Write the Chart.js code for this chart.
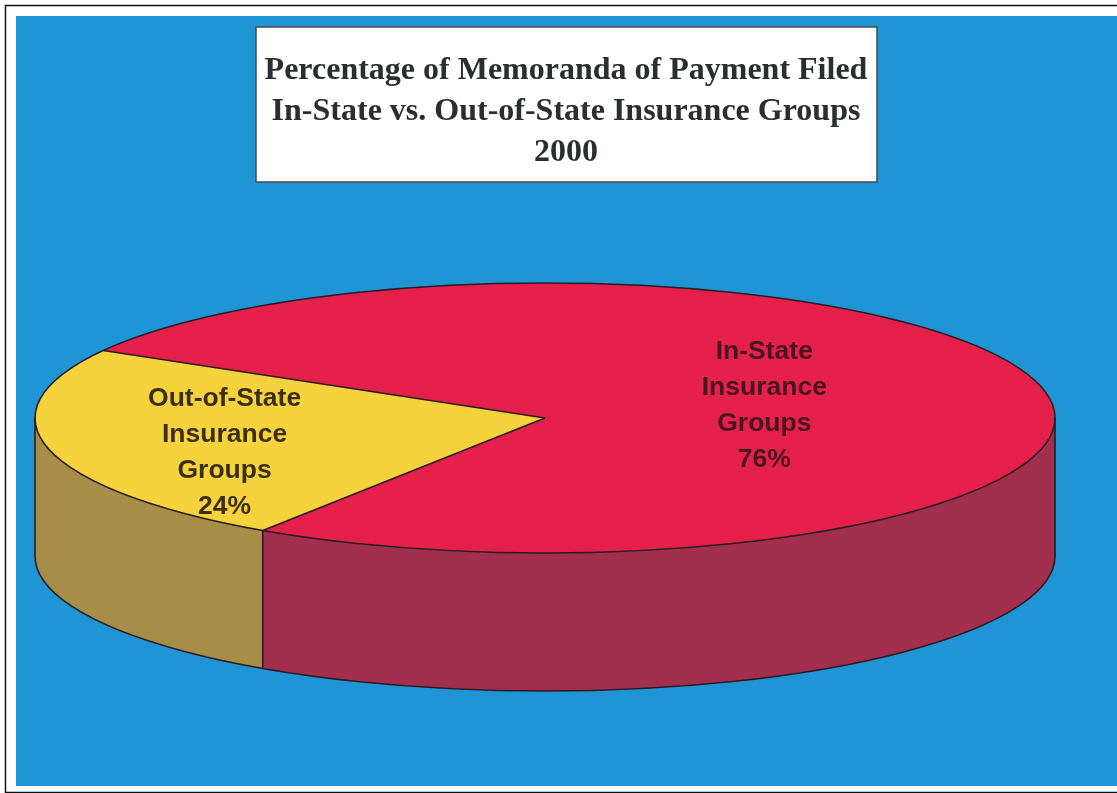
<!DOCTYPE html>
<html>
<head>
<meta charset="utf-8">
<title>Memoranda of Payment Filed 2000</title>
<style>
  html, body { margin: 0; padding: 0; background: #fff; }
  canvas { display: block; }
</style>
</head>
<body>
<canvas id="chart-pie" width="1117" height="793"></canvas>

<script src="https://cdn.jsdelivr.net/npm/chart.js@4"></script>
<script>
const categories = ['In-State Insurance Groups', 'Out-of-State Insurance Groups'];
const labelLines = [
  ['In-State', 'Insurance', 'Groups'],
  ['Out-of-State', 'Insurance', 'Groups'],
];
const shares = [76, 24];
const titleLines = [
  'Percentage of Memoranda of Payment Filed',
  'In-State vs. Out-of-State Insurance Groups',
  '2000',
];

const topColors = ['#e4204b', '#f6d33d'];
const sideColors = ['#a32f4e', '#a68d48'];
const labelColors = ['#4a1420', '#3c2e10'];

// page frame, blue backdrop and the boxed title
const page = {
  id: 'page',
  beforeDraw(chart) {
    const ctx = chart.ctx;
    ctx.save();
    ctx.fillStyle = '#fff';
    ctx.fillRect(0, 0, chart.width, chart.height);
    ctx.strokeStyle = '#111';
    ctx.lineWidth = 1.5;
    ctx.strokeRect(5.5, 5.5, 1200, 787);
    ctx.fillStyle = '#1f95d6';
    ctx.fillRect(16, 16, chart.width - 16, 770);

    ctx.fillStyle = '#fff';
    ctx.fillRect(256, 27, 621, 155);
    ctx.strokeStyle = '#4a4a4a';
    ctx.lineWidth = 1.5;
    ctx.strokeRect(256, 27, 621, 155);

    ctx.fillStyle = '#2b2e31';
    ctx.font = 'bold 32px "Liberation Serif"';
    ctx.textAlign = 'center';
    ctx.textBaseline = 'alphabetic';
    titleLines.forEach((t, i) => ctx.fillText(t, 566, 79 + i * 41));
    ctx.restore();
  },
};

// squashes the library's pie into an ellipse and adds the side wall
const pie3d = {
  id: 'pie3d',
  beforeDatasetsDraw(chart, args, o) {
    const ctx = chart.ctx;
    const arcs = chart.getDatasetMeta(0).data;
    const { x: X, y: Y, rx, ry, depth } = o;

    // front half of the side wall, one piece per slice
    arcs.forEach((a, i) => {
      for (let k = -1; k <= 2; k++) {
        const lo = Math.max(a.startAngle, 2 * Math.PI * k);
        const hi = Math.min(a.endAngle, 2 * Math.PI * k + Math.PI);
        if (hi <= lo) continue;
        ctx.beginPath();
        ctx.ellipse(X, Y, rx, ry, 0, lo, hi);
        ctx.ellipse(X, Y + depth, rx, ry, 0, hi, lo, true);
        ctx.closePath();
        ctx.fillStyle = sideColors[i];
        ctx.fill();
      }
    });

    const a0 = arcs[0];
    ctx.save();
    ctx.translate(X, Y);
    ctx.scale(rx / a0.outerRadius, ry / a0.outerRadius);
    ctx.translate(-a0.x, -a0.y);
  },
  afterDatasetsDraw(chart, args, o) {
    const ctx = chart.ctx;
    ctx.restore();
    const arcs = chart.getDatasetMeta(0).data;
    const { x: X, y: Y, rx, ry, depth } = o;

    ctx.save();
    ctx.strokeStyle = o.edge;
    ctx.lineWidth = 1.6;
    ctx.lineJoin = 'round';
    ctx.beginPath();
    ctx.ellipse(X, Y, rx, ry, 0, 0, 2 * Math.PI);
    ctx.stroke();
    ctx.beginPath();
    ctx.ellipse(X, Y + depth, rx, ry, 0, 0, Math.PI);
    ctx.stroke();

    ctx.beginPath();
    [0, Math.PI].forEach((t) => {
      const ex = X + rx * Math.cos(t);
      ctx.moveTo(ex, Y);
      ctx.lineTo(ex, Y + depth);
    });
    arcs.forEach((a) => {
      const t = a.startAngle;
      const ex = X + rx * Math.cos(t);
      const ey = Y + ry * Math.sin(t);
      ctx.moveTo(X, Y);
      ctx.lineTo(ex, ey);
      if (Math.sin(t) > 0) {
        ctx.moveTo(ex, ey);
        ctx.lineTo(ex, ey + depth);
      }
    });
    ctx.stroke();

    // slice labels
    ctx.font = 'bold 26.5px "Liberation Sans"';
    ctx.textAlign = 'center';
    ctx.textBaseline = 'middle';
    arcs.forEach((a, i) => {
      const p = o.labels[i];
      const t = (a.startAngle + a.endAngle) / 2 + (p.shift * Math.PI) / 180;
      const lx = X + rx * p.frac * Math.cos(t);
      const ly = Y + ry * p.frac * Math.sin(t);
      const lines = [...labelLines[i], shares[i] + '%'];
      ctx.fillStyle = labelColors[i];
      lines.forEach((s, j) => {
        ctx.fillText(s, lx, ly + (j - (lines.length - 1) / 2) * 36);
      });
    });
    ctx.restore();
  },
};

new Chart(document.getElementById('chart-pie'), {
  type: 'pie',
  data: {
    labels: categories,
    datasets: [
      {
        data: shares,
        backgroundColor: topColors,
        borderWidth: 0,
        clip: false,
      },
    ],
  },
  options: {
    responsive: false,
    animation: false,
    events: [],
    rotation: -60,
    plugins: {
      legend: { display: false },
      tooltip: { enabled: false },
      pie3d: {
        x: 545,
        y: 418,
        rx: 510,
        ry: 135,
        depth: 138,
        edge: '#2a1c22',
        labels: [
          { frac: 0.44, shift: 1 },
          { frac: 0.68, shift: -9.3 },
        ],
      },
    },
  },
  plugins: [page, pie3d],
});
</script>
</body>
</html>
